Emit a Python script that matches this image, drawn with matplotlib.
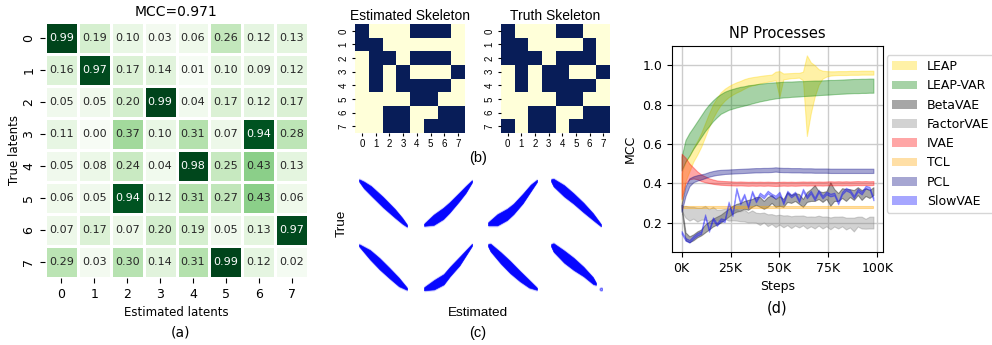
import numpy as np
import matplotlib
matplotlib.use('Agg')
import matplotlib.pyplot as plt
from matplotlib.patches import Patch
import seaborn as sns

# ---------------- (a) MCC matrix ----------------
mcc_title = 'MCC=0.971'
latent_ticks = ['0', '1', '2', '3', '4', '5', '6', '7']
mcc_matrix = [
    [0.99, 0.19, 0.10, 0.03, 0.06, 0.26, 0.12, 0.13],
    [0.16, 0.97, 0.17, 0.14, 0.01, 0.10, 0.09, 0.12],
    [0.05, 0.05, 0.20, 0.99, 0.04, 0.17, 0.12, 0.17],
    [0.11, 0.00, 0.37, 0.10, 0.31, 0.07, 0.94, 0.28],
    [0.05, 0.08, 0.24, 0.04, 0.98, 0.25, 0.43, 0.13],
    [0.06, 0.05, 0.94, 0.12, 0.31, 0.27, 0.43, 0.06],
    [0.07, 0.17, 0.07, 0.20, 0.19, 0.05, 0.13, 0.97],
    [0.29, 0.03, 0.30, 0.14, 0.31, 0.99, 0.12, 0.02],
]

# ---------------- (b) skeletons ----------------
est_skeleton = [
    [1, 0, 0, 0, 1, 1, 1, 0],
    [1, 1, 0, 0, 0, 0, 0, 0],
    [0, 1, 1, 0, 1, 1, 1, 0],
    [0, 1, 0, 1, 0, 0, 0, 1],
    [0, 1, 0, 1, 1, 1, 1, 0],
    [0, 0, 0, 0, 1, 1, 0, 0],
    [0, 0, 1, 1, 0, 0, 1, 1],
    [0, 0, 1, 1, 0, 1, 1, 1],
]
true_skeleton = [
    [1, 0, 0, 0, 1, 1, 0, 0],
    [1, 1, 0, 0, 0, 0, 1, 0],
    [1, 1, 1, 0, 1, 1, 1, 0],
    [0, 1, 0, 1, 1, 0, 0, 1],
    [0, 1, 0, 1, 1, 1, 1, 0],
    [0, 0, 0, 0, 1, 1, 0, 0],
    [0, 0, 1, 1, 0, 0, 1, 1],
    [1, 0, 1, 1, 0, 1, 1, 1],
]

# ---------------- (c) scatter clouds (centre line + half thickness) ----------------
cloud_x = [
    [0.0, 0.1, 0.25, 0.5, 0.75, 0.9, 1.0],
    [0.0, 0.2, 0.4, 0.53, 0.73, 0.87, 1.0],
    [0.0, 0.19, 0.39, 0.52, 0.71, 0.87, 1.0],
    [0.0, 0.05, 0.26, 0.45, 0.65, 0.84, 1.0],
    [0.0, 0.23, 0.43, 0.63, 0.83, 1.0],
    [0.0, 0.21, 0.41, 0.54, 0.74, 1.0],
    [0.0, 0.05, 0.26, 0.45, 0.65, 0.84, 1.0],
    [0.0, 0.05, 0.26, 0.45, 0.65, 0.84, 0.9],
]
cloud_y = [
    [1.0, 0.9, 0.77, 0.52, 0.27, 0.11, 0.0],
    [0.02, 0.13, 0.27, 0.4, 0.63, 0.8, 0.98],
    [0.04, 0.13, 0.25, 0.37, 0.6, 0.83, 0.99],
    [1.0, 0.95, 0.77, 0.6, 0.4, 0.2, 0.01],
    [0.98, 0.77, 0.57, 0.37, 0.17, 0.02],
    [0.02, 0.11, 0.23, 0.4, 0.63, 0.99],
    [0.98, 0.93, 0.7, 0.5, 0.3, 0.13, 0.02],
    [0.98, 0.93, 0.73, 0.57, 0.4, 0.2, 0.13],
]
cloud_t = [
    [0.02, 0.07, 0.1, 0.11, 0.09, 0.06, 0.02],
    [0.02, 0.11, 0.12, 0.11, 0.09, 0.07, 0.02],
    [0.03, 0.12, 0.12, 0.11, 0.1, 0.07, 0.02],
    [0.02, 0.08, 0.12, 0.11, 0.1, 0.07, 0.02],
    [0.02, 0.1, 0.12, 0.11, 0.09, 0.02],
    [0.03, 0.1, 0.11, 0.1, 0.09, 0.02],
    [0.02, 0.08, 0.12, 0.13, 0.11, 0.08, 0.02],
    [0.02, 0.09, 0.13, 0.13, 0.1, 0.07, 0.02],
]

# ---------------- (d) NP processes ----------------
steps_k = [0, 2, 4, 6, 8, 10, 12, 14, 16, 18, 20, 22, 24, 26, 28, 30, 32, 34, 36, 38,
           40, 42, 44, 46, 48, 50, 52, 54, 56, 58, 60, 62, 64, 66, 68, 70, 72, 74, 76, 78,
           80, 82, 84, 86, 88, 90, 92, 94, 96, 98]
method_names = ['LEAP', 'LEAP-VAR', 'BetaVAE', 'FactorVAE', 'IVAE', 'TCL', 'PCL', 'SlowVAE']
method_colors = ['gold', 'green', 'black', 'gray', 'red', 'orange', 'navy', 'blue']

leap_mean = [0.37, 0.46, 0.50, 0.545, 0.58, 0.62, 0.67, 0.72, 0.765, 0.80, 0.83, 0.85, 0.865, 0.877,
             0.887, 0.895, 0.905, 0.913, 0.918, 0.922, 0.926, 0.93, 0.933, 0.936, 0.945, 0.905,
             0.943, 0.945, 0.947, 0.948, 0.949, 0.945, 0.845, 0.885, 0.92, 0.94, 0.952, 0.956,
             0.958, 0.959, 0.96, 0.96, 0.96, 0.961, 0.961, 0.961, 0.962, 0.962, 0.962, 0.962]
leap_hw = [0.08, 0.05, 0.04, 0.035, 0.035, 0.035, 0.035, 0.035, 0.035, 0.033, 0.032, 0.03, 0.028,
           0.027, 0.026, 0.025, 0.024, 0.022, 0.021, 0.02, 0.019, 0.018, 0.017, 0.016, 0.022, 0.065,
           0.015, 0.014, 0.013, 0.013, 0.012, 0.022, 0.205, 0.13, 0.08, 0.04, 0.02, 0.014, 0.011,
           0.01, 0.01, 0.01, 0.01, 0.01, 0.01, 0.01, 0.01, 0.01, 0.01, 0.01]
leapvar_mean = [0.50, 0.565, 0.598, 0.63, 0.66, 0.69, 0.72, 0.745, 0.768, 0.787, 0.803, 0.814, 0.823,
                0.829, 0.835, 0.84, 0.844, 0.849, 0.853, 0.857, 0.861, 0.864, 0.867, 0.87, 0.872,
                0.874, 0.876, 0.877, 0.878, 0.879, 0.88, 0.881, 0.882, 0.883, 0.884, 0.885, 0.886,
                0.887, 0.888, 0.889, 0.89, 0.891, 0.892, 0.893, 0.894, 0.894, 0.895, 0.895, 0.896, 0.896]
leapvar_hw = [0.035, 0.055, 0.058, 0.055, 0.055, 0.055, 0.055, 0.055, 0.053, 0.052, 0.05, 0.051, 0.05,
              0.05, 0.05, 0.05, 0.049, 0.049, 0.047, 0.046, 0.045, 0.044, 0.043, 0.042, 0.041, 0.04,
              0.04, 0.04, 0.039, 0.039, 0.039, 0.038, 0.038, 0.038, 0.038, 0.037, 0.037, 0.037, 0.037,
              0.036, 0.036, 0.036, 0.036, 0.036, 0.036, 0.036, 0.036, 0.036, 0.036, 0.036]
beta_mean = [0.28, 0.13, 0.115, 0.125, 0.14, 0.15, 0.17, 0.185, 0.2, 0.21, 0.22, 0.235, 0.25, 0.265,
             0.275, 0.28, 0.29, 0.29, 0.30, 0.31, 0.305, 0.29, 0.305, 0.32, 0.30, 0.31, 0.30, 0.33,
             0.32, 0.33, 0.32, 0.30, 0.33, 0.34, 0.35, 0.34, 0.33, 0.34, 0.345, 0.34, 0.33, 0.35,
             0.34, 0.35, 0.34, 0.36, 0.34, 0.355, 0.345, 0.36]
beta_hw = [0.01, 0.02, 0.015, 0.015, 0.015, 0.015, 0.02, 0.02, 0.02, 0.02, 0.02, 0.02, 0.02, 0.02,
           0.02, 0.02, 0.02, 0.025, 0.02, 0.02, 0.025, 0.02, 0.025, 0.02, 0.02, 0.025, 0.02, 0.025,
           0.02, 0.02, 0.025, 0.02, 0.025, 0.03, 0.04, 0.02, 0.025, 0.02, 0.06, 0.03, 0.02, 0.025,
           0.03, 0.02, 0.025, 0.02, 0.025, 0.02, 0.02, 0.02]
factor_mean = [0.27, 0.255, 0.245, 0.25, 0.24, 0.245, 0.25, 0.238, 0.245, 0.24, 0.236, 0.245, 0.24,
               0.236, 0.24, 0.232, 0.236, 0.226, 0.232, 0.225, 0.218, 0.226, 0.212, 0.218, 0.207,
               0.215, 0.206, 0.212, 0.202, 0.21, 0.205, 0.211, 0.2, 0.206, 0.2, 0.21, 0.2, 0.206,
               0.196, 0.205, 0.2, 0.206, 0.195, 0.2, 0.19, 0.205, 0.2, 0.194, 0.2, 0.2]
factor_hw = [0.01, 0.03, 0.035, 0.03, 0.035, 0.03, 0.035, 0.03, 0.035, 0.025, 0.03, 0.025, 0.03,
             0.025, 0.03, 0.025, 0.03, 0.025, 0.03, 0.025, 0.03, 0.025, 0.03, 0.025, 0.03, 0.025,
             0.03, 0.025, 0.03, 0.025, 0.03, 0.025, 0.03, 0.025, 0.03, 0.025, 0.03, 0.025, 0.03,
             0.025, 0.03, 0.025, 0.03, 0.025, 0.035, 0.025, 0.03, 0.025, 0.03, 0.03]
ivae_mean = [0.435, 0.465, 0.46, 0.452, 0.44, 0.428, 0.42, 0.413, 0.408, 0.404, 0.402, 0.401, 0.40,
             0.399, 0.398, 0.399, 0.398, 0.397, 0.398, 0.397, 0.398, 0.397, 0.398, 0.397, 0.396,
             0.397, 0.398, 0.397, 0.398, 0.397, 0.398, 0.399, 0.398, 0.399, 0.398, 0.399, 0.398,
             0.399, 0.40, 0.399, 0.40, 0.399, 0.40, 0.399, 0.40, 0.401, 0.40, 0.401, 0.40, 0.401]
ivae_hw = [0.115, 0.065, 0.04, 0.028, 0.02, 0.017, 0.015, 0.012, 0.011, 0.01, 0.01, 0.01, 0.01, 0.01,
           0.01, 0.01, 0.01, 0.01, 0.01, 0.01, 0.01, 0.01, 0.01, 0.01, 0.01, 0.01, 0.01, 0.01, 0.01,
           0.01, 0.01, 0.01, 0.01, 0.01, 0.01, 0.01, 0.01, 0.01, 0.01, 0.01, 0.01, 0.01, 0.01, 0.01,
           0.01, 0.01, 0.01, 0.01, 0.01, 0.01]
tcl_mean = [0.278, 0.278, 0.278, 0.278, 0.278, 0.278, 0.278, 0.278, 0.278, 0.278, 0.278, 0.278,
            0.278, 0.278, 0.278, 0.278, 0.278, 0.278, 0.278, 0.278, 0.278, 0.278, 0.278, 0.278,
            0.278, 0.278, 0.278, 0.278, 0.278, 0.278, 0.278, 0.278, 0.278, 0.278, 0.278, 0.278,
            0.278, 0.278, 0.278, 0.278, 0.278, 0.278, 0.278, 0.278, 0.278, 0.278, 0.278, 0.278,
            0.278, 0.278]
tcl_hw = [0.004] * 50
pcl_mean = [0.275, 0.36, 0.405, 0.42, 0.427, 0.432, 0.438, 0.445, 0.45, 0.454, 0.456, 0.458, 0.459,
            0.46, 0.461, 0.462, 0.463, 0.464, 0.465, 0.466, 0.466, 0.467, 0.467, 0.468, 0.47, 0.468,
            0.467, 0.467, 0.466, 0.466, 0.466, 0.465, 0.465, 0.465, 0.464, 0.464, 0.464, 0.464,
            0.463, 0.463, 0.463, 0.463, 0.463, 0.463, 0.463, 0.463, 0.463, 0.463, 0.463, 0.463]
pcl_hw = [0.02, 0.025, 0.02, 0.015, 0.014, 0.013, 0.012, 0.012, 0.012, 0.012, 0.012, 0.011, 0.011,
          0.011, 0.011, 0.011, 0.011, 0.011, 0.011, 0.011, 0.011, 0.011, 0.011, 0.011, 0.011, 0.011,
          0.011, 0.011, 0.011, 0.011, 0.011, 0.011, 0.011, 0.011, 0.011, 0.011, 0.011, 0.011, 0.011,
          0.011, 0.011, 0.011, 0.011, 0.011, 0.011, 0.011, 0.011, 0.011, 0.011, 0.011]
slow_mean = [0.15, 0.115, 0.105, 0.125, 0.14, 0.15, 0.235, 0.16, 0.22, 0.19, 0.215, 0.21, 0.30,
             0.24, 0.37, 0.30, 0.34, 0.28, 0.355, 0.31, 0.345, 0.33, 0.355, 0.34, 0.33, 0.35, 0.30,
             0.355, 0.335, 0.35, 0.31, 0.365, 0.33, 0.355, 0.32, 0.36, 0.33, 0.35, 0.34, 0.345,
             0.30, 0.35, 0.37, 0.36, 0.33, 0.365, 0.35, 0.38, 0.375, 0.32]
slow_hw = [0.007] * 50

series_mean = [leap_mean, leapvar_mean, beta_mean, factor_mean, ivae_mean, tcl_mean, pcl_mean, slow_mean]
series_hw = [leap_hw, leapvar_hw, beta_hw, factor_hw, ivae_hw, tcl_hw, pcl_hw, slow_hw]
step_ticks = [0, 25000, 50000, 75000, 100000]
step_labels = ['0K', '25K', '50K', '75K', '100K']
mcc_ticks = [0.2, 0.4, 0.6, 0.8, 1.0]

# ---------------- figure ----------------
W, H = 992, 345
fig = plt.figure(figsize=(W / 100, H / 100), dpi=100)


def add_ax(l, t, r, b):
    return fig.add_axes([l / W, 1 - b / H, (r - l) / W, (b - t) / H])


def ftext(x, y, s, **kw):
    fig.text(x / W, 1 - y / H, s, ha='center', va='center', **kw)


ARIAL = ['Liberation Sans', 'DejaVu Sans']

# (a)
ax = add_ax(45, 22, 308, 278)
sns.heatmap(np.array(mcc_matrix), ax=ax, annot=True, fmt='.2f', cmap='Greens', cbar=False,
            linewidths=1, linecolor='white', annot_kws={'fontsize': 8},
            xticklabels=latent_ticks, yticklabels=latent_ticks)
ax.set_title(mcc_title, fontsize=10, pad=4)
ax.set_xlabel('Estimated latents', fontsize=8.5)
ax.set_ylabel('True latents', fontsize=8.5, labelpad=1)
ax.tick_params(labelsize=9, length=3.5)
plt.setp(ax.get_yticklabels(), rotation=90, va='center')
plt.setp(ax.get_xticklabels(), rotation=0)
ftext(180, 333, '(a)', fontsize=10)

# (b)
for data, title, (l, r) in [(est_skeleton, 'Estimated Skeleton', (355, 465)),
                            (true_skeleton, 'Truth Skeleton', (501, 610))]:
    ax = add_ax(l, 24, r, 133)
    sns.heatmap(np.array(data), ax=ax, cmap='YlGnBu', vmin=0, vmax=1, cbar=False,
                xticklabels=latent_ticks, yticklabels=latent_ticks)
    ax.set_title(title, fontsize=10, family=ARIAL, pad=3)
    ax.tick_params(labelsize=7, length=2.5, width=0.8, pad=2)
    plt.setp(ax.get_yticklabels(), rotation=90, va='center', family=ARIAL)
    plt.setp(ax.get_xticklabels(), rotation=0, family=ARIAL)
ftext(478, 158, '(b)', fontsize=10.5, family=ARIAL)

# (c)
cols = [(358, 408), (423, 473), (487, 538), (550, 602)]
rows = [(178, 228), (242, 292)]
for k in range(8):
    (t, b) = rows[k // 4]
    (l, r) = cols[k % 4]
    ax = add_ax(l, t, r, b)
    xs = np.array(cloud_x[k])
    ys = np.array(cloud_y[k])
    th = np.array(cloud_t[k])
    ax.fill_between(xs, ys - th - 0.035, ys + th + 0.035, color='blue', alpha=0.18, lw=0)
    ax.fill_between(xs, ys - th - 0.015, ys + th + 0.015, color='blue', alpha=0.35, lw=0)
    ax.fill_between(xs, ys - th, ys + th, color='blue', alpha=0.95, lw=0.4)
    if k == 7:
        ax.plot([1.0], [0.02], 'o', color='blue', alpha=0.4, ms=2)
    ax.set_xlim(-0.02, 1.02)
    ax.set_ylim(-0.05, 1.05)
    ax.axis('off')
ftext(342, 223, 'True', fontsize=9.7, rotation=90, family=ARIAL)
ftext(478, 313, 'Estimated', fontsize=9.7, family=ARIAL)
ftext(478, 333, '(c)', fontsize=10.5, family=ARIAL)

# (d)
ax = add_ax(672, 46, 883, 252)
steps = np.array(steps_k) * 1000
handles = []
for name, color, m, h in zip(method_names, method_colors, series_mean, series_hw):
    m = np.array(m)
    h = np.array(h)
    ax.fill_between(steps, m - h, m + h, color=color, alpha=0.35, lw=0.8)
    handles.append(Patch(facecolor=color, alpha=0.35, edgecolor='none', label=name))
ax.set_title('NP Processes', fontsize=10.5)
ax.set_xlabel('Steps', fontsize=9)
ax.set_ylabel('MCC', fontsize=9)
ax.set_xticks(step_ticks)
ax.set_xticklabels(step_labels)
ax.set_yticks(mcc_ticks)
ax.tick_params(labelsize=9)
ax.grid(True, color='#cccccc', lw=1)
ax.set_axisbelow(True)
ax.legend(handles=handles, loc='upper left', bbox_to_anchor=(1.0175, 0.956), borderaxespad=0,
          fontsize=9)
ftext(777, 308, '(d)', fontsize=10.5)

fig.savefig('out.png', dpi=100)
